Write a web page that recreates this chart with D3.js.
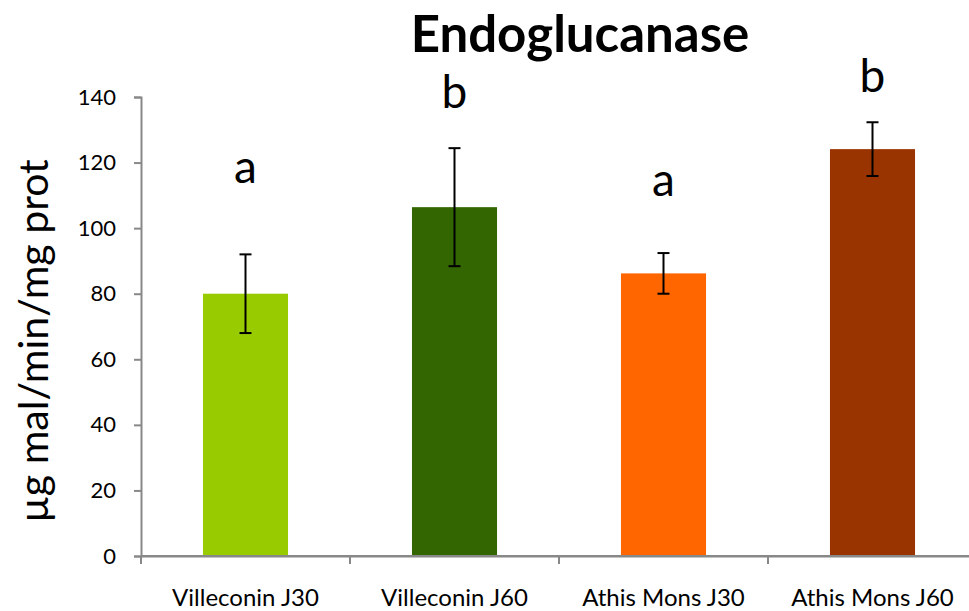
<!DOCTYPE html>
<html>
<head>
<meta charset="utf-8">
<script src="https://cdn.jsdelivr.net/npm/d3@7"></script>
<style>
  html, body { margin: 0; padding: 0; background: #fff; }
  svg { display: block; }
</style>
</head>
<body>
<svg id="chart" width="969" height="611"></svg>
<script>
const categories = ["Villeconin J30", "Villeconin J60", "Athis Mons J30", "Athis Mons J60"];
const values = [80, 106.4, 86.2, 124.1];
const errors = [12, 18, 6.2, 8.2];
const letters = ["a", "b", "a", "b"];
const letterValues = [113.8, 136.6, 109.8, 141.5];
const colors = ["#99CC00", "#336600", "#FF6600", "#993300"];
const yTicks = [0, 20, 40, 60, 80, 100, 120, 140];
const title = "Endoglucanase";
const yLabel = "µg mal/min/mg prot";

const svg = d3.select("#chart");
const font = "Lato, 'Open Sans', sans-serif";
const axisColor = "#888888";

const x0 = 141, x1 = 977, yBottom = 556, yTop = 97;
const x = d3.scaleBand().domain(categories).range([x0, x1]).padding(0);
const y = d3.scaleLinear().domain([0, 140]).range([yBottom, yTop]);
const barW = x.bandwidth() * 0.407;

// Y axis
const yAxis = d3.axisLeft(y).tickValues(yTicks).tickSize(7).tickPadding(18);
const gy = svg.append("g").attr("transform", `translate(${x0},0)`).call(yAxis);
gy.select(".domain").attr("stroke", axisColor).attr("stroke-width", 2);
gy.selectAll(".tick line").attr("stroke", axisColor).attr("stroke-width", 2);
gy.selectAll(".tick text").attr("font-family", font).attr("font-size", 22).attr("fill", "#000");

// X axis
const xAxis = d3.axisBottom(x).tickSize(0).tickFormat("");
const gx = svg.append("g").attr("transform", `translate(0,${yBottom})`).call(xAxis);
gx.select(".domain").attr("stroke", axisColor).attr("stroke-width", 2);
gx.selectAll(".tick").remove();
// category boundary ticks
svg.append("g").selectAll("line")
  .data(categories)
  .join("line")
  .attr("x1", d => x(d)).attr("x2", d => x(d))
  .attr("y1", yBottom).attr("y2", yBottom + 8)
  .attr("stroke", axisColor).attr("stroke-width", 2);

// Category labels
svg.append("g").selectAll("text")
  .data(categories)
  .join("text")
  .attr("x", d => x(d) + x.bandwidth() / 2)
  .attr("y", 606)
  .attr("text-anchor", "middle")
  .attr("font-family", font)
  .attr("font-size", 24)
  .attr("fill", "#000")
  .text(d => d);

// Bars
svg.append("g").selectAll("rect")
  .data(categories)
  .join("rect")
  .attr("x", d => x(d) + (x.bandwidth() - barW) / 2)
  .attr("width", barW)
  .attr("y", (d, i) => y(values[i]))
  .attr("height", (d, i) => y(0) - y(values[i]))
  .attr("fill", (d, i) => colors[i]);

// redraw x-axis line above bars
svg.append("line")
  .attr("x1", x0).attr("x2", 969)
  .attr("y1", yBottom).attr("y2", yBottom)
  .attr("stroke", axisColor).attr("stroke-width", 2);

// Error bars
const eg = svg.append("g").attr("stroke", "#000").attr("stroke-width", 2);
categories.forEach((c, i) => {
  const cx = x(c) + x.bandwidth() / 2;
  const hi = y(values[i] + errors[i]);
  const lo = y(values[i] - errors[i]);
  eg.append("line").attr("x1", cx).attr("x2", cx).attr("y1", hi).attr("y2", lo);
  eg.append("line").attr("x1", cx - 6).attr("x2", cx + 6).attr("y1", hi).attr("y2", hi);
  eg.append("line").attr("x1", cx - 6).attr("x2", cx + 6).attr("y1", lo).attr("y2", lo);
});

// Significance letters
svg.append("g").selectAll("text")
  .data(categories)
  .join("text")
  .attr("x", d => x(d) + x.bandwidth() / 2)
  .attr("y", (d, i) => y(letterValues[i]))
  .attr("text-anchor", "middle")
  .attr("font-family", font)
  .attr("font-size", 46)
  .attr("fill", "#000")
  .text((d, i) => letters[i]);

// Title
svg.append("text")
  .attr("x", 580).attr("y", 52)
  .attr("text-anchor", "middle")
  .attr("font-family", font)
  .attr("font-weight", "bold")
  .attr("font-size", 51)
  .attr("fill", "#000")
  .text(title);

// Y label
svg.append("text")
  .attr("transform", `translate(48,341) rotate(-90)`)
  .attr("text-anchor", "middle")
  .attr("font-family", font)
  .attr("font-size", 41)
  .attr("fill", "#000")
  .text(yLabel);
</script>
</body>
</html>
